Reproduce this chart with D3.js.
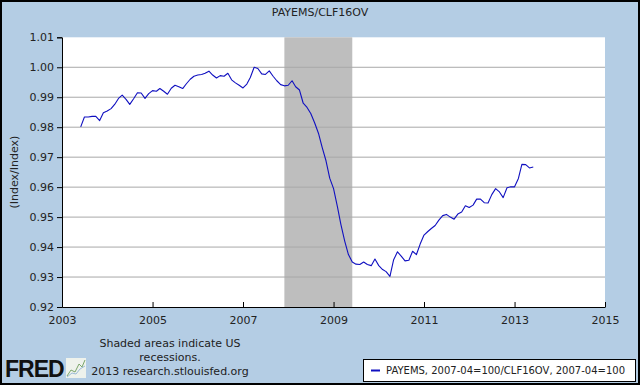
<!DOCTYPE html>
<html>
<head>
<meta charset="utf-8">
<script src="https://cdn.jsdelivr.net/npm/d3@7"></script>
<style>
  html, body { margin: 0; padding: 0; background: #b4cde4; }
  svg { display: block; font-family: "DejaVu Sans", Verdana, sans-serif; }
</style>
</head>
<body>
<script>
// monthly ratio PAYEMS/CLF16OV, first month is June 2003
let startMonth = new Date(2003, 5, 1);
let ratio = [
  0.9801, 0.9834, 0.9834, 0.9836, 0.9836, 0.9822, 0.9848, 0.9854, 0.9862, 0.9876,
  0.9896, 0.9907, 0.9893, 0.9876, 0.9895, 0.9915, 0.9914, 0.9896, 0.9912, 0.9922,
  0.9920, 0.9929, 0.9920, 0.9910, 0.9930, 0.9940, 0.9935, 0.9929, 0.9945, 0.9960,
  0.9970, 0.9974, 0.9976, 0.9980, 0.9987, 0.9974, 0.9964, 0.9972, 0.9970, 0.9980,
  0.9958, 0.9948, 0.9940, 0.9931, 0.9944, 0.9966, 1.0000, 0.9996, 0.9978, 0.9976,
  0.9988, 0.9970, 0.9955, 0.9942, 0.9938, 0.9940, 0.9955, 0.9935, 0.9924, 0.9880,
  0.9866, 0.9846, 0.9815, 0.9780, 0.9733, 0.9688, 0.9630, 0.9595, 0.9535, 0.9476,
  0.9420, 0.9375, 0.9350, 0.9343, 0.9342, 0.9350, 0.9342, 0.9338, 0.9360, 0.9338,
  0.9325, 0.9318, 0.9302, 0.9358, 0.9384, 0.9370, 0.9354, 0.9356, 0.9386, 0.9375,
  0.9410, 0.9440, 0.9452, 0.9462, 0.9472, 0.9490, 0.9505, 0.9509, 0.9500, 0.9493,
  0.9510, 0.9517, 0.9538, 0.9532, 0.9540, 0.9560, 0.9560, 0.9548, 0.9547, 0.9575,
  0.9595, 0.9584, 0.9565, 0.9598, 0.9601, 0.9601, 0.9629, 0.9676, 0.9675, 0.9664,
  0.9667
];
let recessions = [[new Date(2007, 11, 1), new Date(2009, 5, 1)]];
let yTicks = [0.92, 0.93, 0.94, 0.95, 0.96, 0.97, 0.98, 0.99, 1.00, 1.01];
let xTickYears = [2003, 2005, 2007, 2009, 2011, 2013, 2015];
let title = "PAYEMS/CLF16OV";
let yTitle = "(Index/Index)";
let notes = ["Shaded areas indicate US", "recessions.", "2013 research.stlouisfed.org"];
let legendLabel = "PAYEMS, 2007-04=100/CLF16OV, 2007-04=100";

let WIDTH = 640, HEIGHT = 385;
let PLOT = {left: 62, right: 605, top: 37.3, bottom: 307};

let svg = d3.select("body").append("svg")
    .attr("width", WIDTH)
    .attr("height", HEIGHT);

svg.append("rect")
  .attr("x", 1).attr("y", 1)
  .attr("width", WIDTH - 2).attr("height", HEIGHT - 2)
  .attr("fill", "#b4cde4")
  .attr("stroke", "#000")
  .attr("stroke-width", 2);

let data = ratio.map((v, i) => ({date: d3.timeMonth.offset(startMonth, i), value: v}));

let x = d3.scaleTime()
    .domain([new Date(2003, 0, 1), new Date(2015, 0, 1)])
    .range([PLOT.left, PLOT.right]);
let y = d3.scaleLinear()
    .domain([0.92, 1.01])
    .range([PLOT.bottom, PLOT.top]);

// plot background
svg.append("rect")
  .attr("x", PLOT.left).attr("y", PLOT.top)
  .attr("width", PLOT.right - PLOT.left)
  .attr("height", PLOT.bottom - PLOT.top)
  .attr("fill", "#fff");

// recession shading
svg.append("g").selectAll("rect")
  .data(recessions)
  .join("rect")
  .attr("x", d => x(d[0]))
  .attr("width", d => x(d[1]) - x(d[0]))
  .attr("y", PLOT.top)
  .attr("height", PLOT.bottom - PLOT.top)
  .attr("fill", "#bebebe");

// gridlines
svg.append("g").selectAll("line")
  .data(yTicks.filter(t => t > 0.92 && t < 1.01))
  .join("line")
  .attr("x1", PLOT.left).attr("x2", PLOT.right)
  .attr("y1", d => y(d)).attr("y2", d => y(d))
  .attr("stroke", "#a8a8a8")
  .attr("stroke-width", 1);

// series
svg.append("path")
  .datum(data)
  .attr("fill", "none")
  .attr("stroke", "#1010c0")
  .attr("stroke-width", 1.1)
  .attr("stroke-linejoin", "round")
  .attr("d", d3.line().x(d => x(d.date)).y(d => y(d.value)));

// axes
let yAxis = svg.append("g")
  .attr("transform", `translate(${PLOT.left},0)`)
  .call(d3.axisLeft(y).tickValues(yTicks).tickFormat(d3.format(".2f")).tickSize(5).tickPadding(3));
yAxis.select(".domain").attr("stroke", "#000");
yAxis.selectAll("text").attr("font-size", 11).attr("fill", "#222")
  .attr("font-family", "DejaVu Sans, Verdana, sans-serif");

let xAxis = svg.append("g")
  .attr("transform", `translate(0,${PLOT.bottom})`)
  .call(d3.axisBottom(x)
    .tickValues(xTickYears.map(yr => new Date(yr, 0, 1)))
    .tickFormat(d3.timeFormat("%Y"))
    .tickSize(0).tickPadding(9));
xAxis.select(".domain").attr("stroke", "#000");
xAxis.selectAll("text").attr("font-size", 11).attr("fill", "#222")
  .attr("font-family", "DejaVu Sans, Verdana, sans-serif");
// FRED ticks point up into the plot
xAxis.selectAll(".tick line").attr("y2", -5).attr("stroke", "#000");

// titles
svg.append("text")
  .attr("x", WIDTH / 2).attr("y", 16)
  .attr("text-anchor", "middle")
  .attr("font-size", 11).attr("fill", "#222")
  .text(title);

svg.append("text")
  .attr("transform", `translate(18,${(PLOT.top + PLOT.bottom) / 2}) rotate(-90)`)
  .attr("text-anchor", "middle")
  .attr("font-size", 11).attr("fill", "#222")
  .text(yTitle);

// footer notes
svg.append("g").selectAll("text")
  .data(notes)
  .join("text")
  .attr("x", 170)
  .attr("y", (d, i) => 347 + i * 14)
  .attr("text-anchor", "middle")
  .attr("font-size", 11).attr("fill", "#222")
  .text(d => d);

// FRED logo
let logo = svg.append("g");
logo.append("text")
  .attr("x", 5).attr("y", 377)
  .attr("font-family", "Liberation Sans, Arial, sans-serif")
  .attr("font-weight", "bold")
  .attr("font-size", 23)
  .attr("letter-spacing", -1)
  .attr("fill", "#111")
  .text("FRED");
logo.append("rect")
  .attr("x", 66).attr("y", 358).attr("width", 20).attr("height", 20)
  .attr("fill", "#eef2ec");
logo.append("path")
  .attr("d", "M67,376 L71,370 L75,372 L79,364 L82,367 L85,360")
  .attr("fill", "none").attr("stroke", "#7aa56a").attr("stroke-width", 1);
logo.append("path")
  .attr("d", "M67,377 L72,373 L76,374 L80,369 L85,366")
  .attr("fill", "none").attr("stroke", "#9bbbd6").attr("stroke-width", 1);

// legend
let legend = svg.append("g");
legend.append("rect")
  .attr("x", 363.5).attr("y", 359.5)
  .attr("width", 272).attr("height", 22)
  .attr("fill", "#fff").attr("stroke", "#000");
legend.append("line")
  .attr("x1", 371).attr("x2", 380)
  .attr("y1", 370.5).attr("y2", 370.5)
  .attr("stroke", "#1010c0").attr("stroke-width", 2);
legend.append("text")
  .attr("x", 386).attr("y", 374)
  .attr("font-size", 10).attr("fill", "#222")
  .text(legendLabel);
</script>
</body>
</html>
